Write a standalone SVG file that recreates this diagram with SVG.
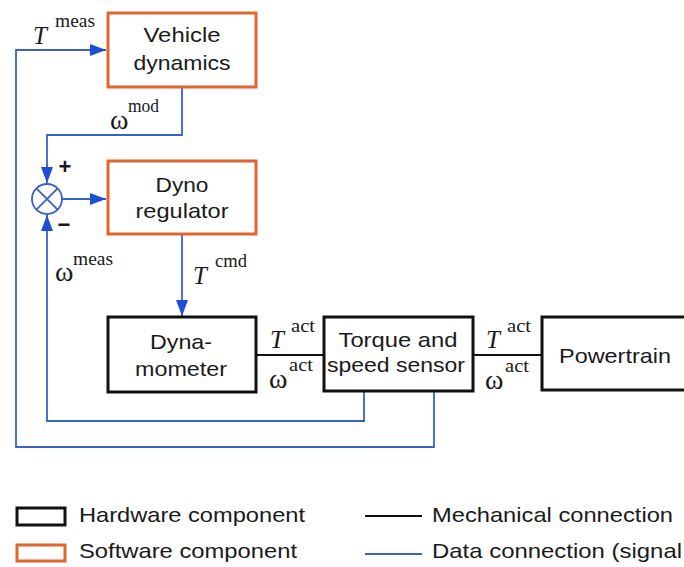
<svg xmlns="http://www.w3.org/2000/svg" width="684" height="567" viewBox="0 0 684 567">
<style>
.hw{fill:#fff;stroke:#111;stroke-width:3}
.sw{fill:#fff;stroke:#e2642f;stroke-width:3}
.lbl{font-family:"Liberation Sans",Arial,sans-serif;font-size:21px;fill:#1a1a1a}
.leg{font-family:"Liberation Sans",Arial,sans-serif;font-size:21px;fill:#1a1a1a}
.mT{font-family:"Liberation Serif","Times New Roman",serif;font-style:italic;font-size:25px;fill:#1a1a1a}
.mw{font-family:"Liberation Serif","Times New Roman",serif;font-size:28px;fill:#1a1a1a}
.sup{font-family:"Liberation Serif","Times New Roman",serif;font-size:18px;fill:#1a1a1a}
.data{fill:none;stroke:#3a62c6;stroke-width:1.8}
.mech{fill:none;stroke:#111;stroke-width:2.2}
.sign{font-family:"Liberation Sans",Arial,sans-serif;font-size:22px;font-weight:bold;fill:#1a1a1a}
</style>
<defs>
<marker id="ah" viewBox="0 0 16 12" refX="16" refY="6" markerWidth="16" markerHeight="12" markerUnits="userSpaceOnUse" orient="auto">
<path d="M0,0 L16,6 L0,12 Z" fill="#1c4fd6"/>
</marker>
</defs>

<g id="connectors">
<path class="data" d="M434,392 V447 H16 V50 H106" marker-end="url(#ah)"/>
<path class="data" d="M182,88 V135 H47 V183" marker-end="url(#ah)"/>
<path class="data" d="M62,199 H106" marker-end="url(#ah)"/>
<path class="data" d="M364,392 V421 H47 V215" marker-end="url(#ah)"/>
<path class="data" d="M182,235 V316" marker-end="url(#ah)"/>
<path class="mech" d="M256,355 H324"/>
<path class="mech" d="M473,355 H542"/>
</g>

<g id="sum">
<circle cx="47" cy="199" r="15" fill="#fff" stroke="#3a62c6" stroke-width="1.8"/>
<path d="M36.4,188.4 L57.6,209.6 M57.6,188.4 L36.4,209.6" stroke="#3a62c6" stroke-width="1.8"/>
<text class="sign" x="65" y="174" text-anchor="middle">+</text>
<text class="sign" x="64" y="232" text-anchor="middle">−</text>
</g>

<g id="vehicle-dynamics">
<rect class="sw" x="108" y="13" width="148" height="74"/>
<text class="lbl" x="182" y="42" text-anchor="middle" textLength="77" lengthAdjust="spacingAndGlyphs">Vehicle</text>
<text class="lbl" x="182" y="70" text-anchor="middle" textLength="97" lengthAdjust="spacingAndGlyphs">dynamics</text>
</g>

<g id="dyno-regulator">
<rect class="sw" x="108" y="161" width="148" height="73"/>
<text class="lbl" x="182" y="192" text-anchor="middle" textLength="53" lengthAdjust="spacingAndGlyphs">Dyno</text>
<text class="lbl" x="182" y="218" text-anchor="middle" textLength="93" lengthAdjust="spacingAndGlyphs">regulator</text>
</g>

<g id="dynamometer">
<rect class="hw" x="108" y="317" width="148" height="75"/>
<text class="lbl" x="181" y="349" text-anchor="middle" textLength="62" lengthAdjust="spacingAndGlyphs">Dyna-</text>
<text class="lbl" x="181" y="376" text-anchor="middle" textLength="92" lengthAdjust="spacingAndGlyphs">mometer</text>
</g>

<g id="sensor">
<rect class="hw" x="324" y="317" width="149" height="74"/>
<text class="lbl" x="398" y="347" text-anchor="middle" textLength="119" lengthAdjust="spacingAndGlyphs">Torque and</text>
<text class="lbl" x="396" y="372" text-anchor="middle" textLength="138" lengthAdjust="spacingAndGlyphs">speed sensor</text>
</g>

<g id="powertrain">
<rect class="hw" x="542" y="317" width="150" height="73"/>
<text class="lbl" x="559" y="363" textLength="112" lengthAdjust="spacingAndGlyphs">Powertrain</text>
</g>

<g id="labels">
<text class="mT" x="33" y="44">T</text><text class="sup" x="55" y="27" textLength="40" lengthAdjust="spacingAndGlyphs">meas</text>
<text class="mw" x="110" y="129">ω</text><text class="sup" x="128" y="112" textLength="31" lengthAdjust="spacingAndGlyphs">mod</text>
<text class="mw" x="55" y="281">ω</text><text class="sup" x="73" y="265" textLength="40" lengthAdjust="spacingAndGlyphs">meas</text>
<text class="mT" x="193" y="284">T</text><text class="sup" x="215" y="267" textLength="32" lengthAdjust="spacingAndGlyphs">cmd</text>
<text class="mT" x="270" y="348">T</text><text class="sup" x="291" y="332" textLength="24" lengthAdjust="spacingAndGlyphs">act</text>
<text class="mw" x="269" y="388">ω</text><text class="sup" x="289" y="371" textLength="24" lengthAdjust="spacingAndGlyphs">act</text>
<text class="mT" x="486" y="348">T</text><text class="sup" x="507" y="332" textLength="24" lengthAdjust="spacingAndGlyphs">act</text>
<text class="mw" x="485" y="389">ω</text><text class="sup" x="505" y="372" textLength="24" lengthAdjust="spacingAndGlyphs">act</text>
</g>

<g id="legend">
<rect x="17" y="508" width="48" height="17" fill="#fff" stroke="#111" stroke-width="3"/>
<rect x="17" y="545" width="48" height="16" fill="#fff" stroke="#e2642f" stroke-width="3"/>
<text class="leg" x="79" y="522" textLength="226" lengthAdjust="spacingAndGlyphs">Hardware component</text>
<text class="leg" x="79" y="558" textLength="218" lengthAdjust="spacingAndGlyphs">Software component</text>
<line x1="365" y1="516" x2="422" y2="516" stroke="#111" stroke-width="2.2"/>
<line x1="365" y1="554" x2="422" y2="554" stroke="#3a62c6" stroke-width="1.8"/>
<text class="leg" x="432" y="522" textLength="241" lengthAdjust="spacingAndGlyphs">Mechanical connection</text>
<text class="leg" x="432" y="558" textLength="250" lengthAdjust="spacingAndGlyphs">Data connection (signal</text>
</g>
</svg>
